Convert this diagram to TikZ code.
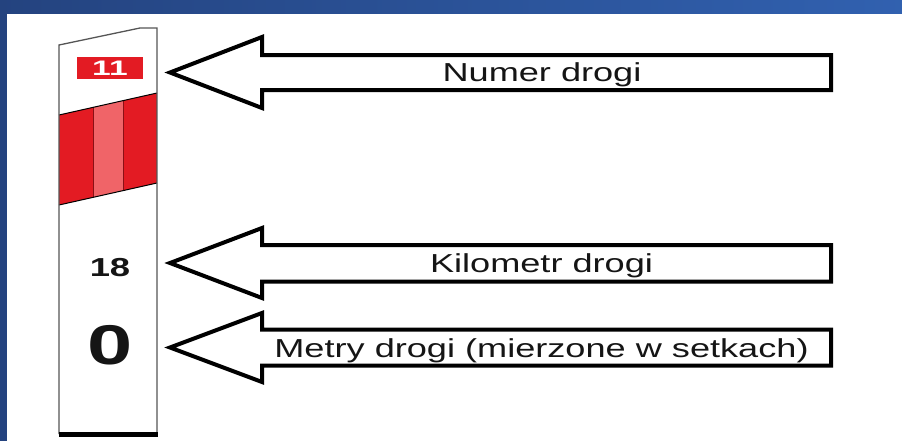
\documentclass[tikz,border=0pt]{standalone}
\usepackage{fontspec}
\setmainfont{Liberation Sans}
\usepackage{graphicx}
\definecolor{frameL}{HTML}{24437F}
\definecolor{frameR}{HTML}{3161B0}
\definecolor{postred}{HTML}{E31B23}
\definecolor{postpink}{HTML}{F06468}
\definecolor{stripeline}{HTML}{8A1015}
\definecolor{ink}{HTML}{151515}
\definecolor{postedge}{HTML}{555555}
\begin{document}
\begin{tikzpicture}[x=1pt,y=-1pt,
  arrowshape/.style={draw=black, line width=4pt, line join=miter, fill=white},
  lbl/.style={font=\fontsize{26}{30}\selectfont, text=ink, inner sep=0pt, anchor=base},
  postnum/.style={text=ink, inner sep=0pt}]
\useasboundingbox (0,0) rectangle (902,440);
% frame
\shade[left color=frameL, right color=frameR] (-5,-5) rectangle (910,14.5);
\fill[frameL] (-5,-5) rectangle (7,450);
\fill[white] (7,14) rectangle (910,450);
% post body
\fill[white] (59,45) -- (140,28) -- (157,28) -- (157,434) -- (59,434) -- cycle;
\begin{scope}
  \clip (59,115) -- (157,93) -- (157,183) -- (59,205) -- cycle;
  \fill[postred] (59,80) rectangle (93,220);
  \fill[postpink] (93,80) rectangle (123,220);
  \fill[postred] (123,80) rectangle (157,220);
  \draw[stripeline, line width=0.8pt] (93,80) -- (93,220);
  \draw[stripeline, line width=0.8pt] (123,80) -- (123,220);
\end{scope}
\draw[black, line width=1pt] (59,115) -- (157,93);
\draw[black, line width=1pt] (59,205) -- (157,183);
\draw[postedge, line width=1.3pt] (59,434) -- (59,45) -- (140,28) -- (157,28) -- (157,434);
\draw[black, line width=5pt] (58.5,434.5) -- (158,434.5);
% post labels
\node[fill=postred, minimum width=66pt, minimum height=22pt, inner sep=0pt, text=white,
      font=\bfseries\fontsize{21}{21}\selectfont] (roadnr) at (110,68) {\scalebox{1.6}[1]{11}};
\node[postnum, font=\bfseries\fontsize{26}{26}\selectfont] (km) at (110,268) {\scalebox{1.4}[1]{18}};
\node[postnum, font=\bfseries\fontsize{56}{56}\selectfont] (m) at (110,345) {\scalebox{1.45}[1]{0}};
% arrows
\draw[arrowshape] (170,72.5) -- (262,37) -- (262,55) -- (831,55) -- (831,90) -- (262,90) -- (262,108) -- cycle;
\node[lbl] (t1) at (542,81) {\scalebox{1.39}[1]{Numer drogi}};
\draw[arrowshape] (170,263) -- (262,228) -- (262,245) -- (831,245) -- (831,281.5) -- (262,281.5) -- (262,298) -- cycle;
\node[lbl] (t2) at (541.5,272) {\scalebox{1.39}[1]{Kilometr drogi}};
\draw[arrowshape] (170,347.5) -- (262,313) -- (262,329.5) -- (831,329.5) -- (831,365.5) -- (262,365.5) -- (262,382) -- cycle;
\node[lbl] (t3) at (541.5,357.5) {\scalebox{1.39}[1]{Metry drogi (mierzone w setkach)}};
\end{tikzpicture}
\end{document}
